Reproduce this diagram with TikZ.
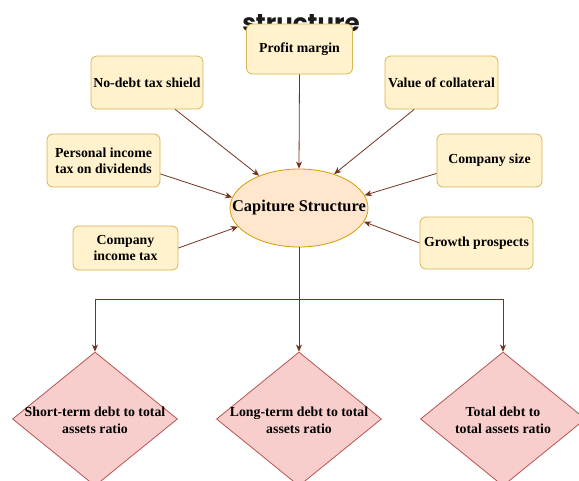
\documentclass[tikz,border=0pt]{standalone}
\usepackage{fontspec}
\setmainfont{Liberation Serif}
\newfontfamily\titlefont{Poppins}
\usetikzlibrary{shapes.geometric,arrows.meta,calc}
\definecolor{bfill}{HTML}{FFF2CC}
\definecolor{bdraw}{HTML}{D6B656}
\definecolor{efill}{HTML}{FFE6CC}
\definecolor{edraw}{HTML}{D79B00}
\definecolor{dfill}{HTML}{F8CECC}
\definecolor{ddraw}{HTML}{B85450}
\definecolor{arrc}{HTML}{73331F}
\definecolor{titlec}{HTML}{1A1A1A}
\begin{document}
\begin{tikzpicture}[x=1pt,y=-1pt,
  box/.style={draw=bdraw, fill=bfill, rounded corners=6pt, line width=0.8pt,
    align=center, inner sep=0pt,
    font=\fontsize{13.8}{16}\selectfont\bfseries},
  ell/.style={ellipse, draw=edraw, fill=efill, line width=0.8pt, inner sep=0pt,
    minimum width=138pt, minimum height=78pt},
  etext/.style={inner sep=0pt, font=\fontsize{16.4}{19}\selectfont\bfseries},
  dia/.style={diamond, draw=ddraw, fill=dfill, line width=0.8pt, inner sep=0pt,
    minimum width=165pt, minimum height=134pt},
  dtext/.style={align=center, inner sep=0pt,
    font=\fontsize{13.8}{17}\selectfont\bfseries},
  arr/.style={draw=arrc, line width=0.8pt, -{Stealth[length=7pt,width=6pt,inset=2pt]}}
]
\clip (0,0) rectangle (579,480);
\fill[white] (0,0) rectangle (579,480);

% title fragment (behind the top box)
\node[font=\titlefont\bfseries\fontsize{24.5}{30}\selectfont, text=titlec, anchor=base, inner sep=0pt] (title) at (301,31) {structure};

% boxes
\node[box, minimum width=106pt, minimum height=50pt] (profit) at (299.5,49) {Profit margin};
\node[box, minimum width=112pt, minimum height=53pt] (nodebt) at (147,82.5) {No-debt tax shield};
\node[box, minimum width=113pt, minimum height=53pt] (collat) at (441.5,82.5) {Value of collateral};
\node[box, minimum width=113pt, minimum height=53pt] (personal) at (103.5,160.5) {Personal income\\tax on dividends};
\node[box, minimum width=105pt, minimum height=53pt] (size) at (489.5,160.5) {Company size};
\node[box, minimum width=105pt, minimum height=44pt] (cit) at (125.5,248) {Company\\income tax};
\node[box, minimum width=113pt, minimum height=52pt] (growth) at (476.5,243) {Growth prospects};

% central ellipse
\node[ell] (cs) at (299,208) {};
\node[etext] (cst) at (299,208) {Capiture Structure};

% diamonds
\node[dia] (d1) at (95,419) {};
\node[dia] (d2) at (299,419) {};
\node[dia] (d3) at (503,419) {};
\node[dtext] (t1) at (95,420) {Short-term debt to total\\assets ratio};
\node[dtext] (t2) at (299,420) {Long-term debt to total\\assets ratio};
\node[dtext] (t3) at (503,420) {Total debt to\\total assets ratio};

% incoming arrows
\draw[arr] ($(nodebt.south west)!0.75!(nodebt.south east)$) -- (cs.141);
\draw[arr] ($(personal.north east)!0.75!(personal.south east)$) -- (cs.171);
\draw[arr] (cit.east) -- (cs.197);
\draw[arr] (profit.south) -- (cs.north);
\draw[arr] ($(collat.south west)!0.26!(collat.south east)$) -- (cs.44);
\draw[arr] ($(size.north west)!0.74!(size.south west)$) -- (cs.11);
\draw[arr] (growth.west) -- (cs.348);

% outgoing
\coordinate (br) at (299,299);
\draw[arr] (cs.south) -- (br) -| (d1.north);
\draw[arr] (cs.south) -- (br) -| (d3.north);
\draw[arr] (cs.south) -- (d2.north);
\end{tikzpicture}
\end{document}
